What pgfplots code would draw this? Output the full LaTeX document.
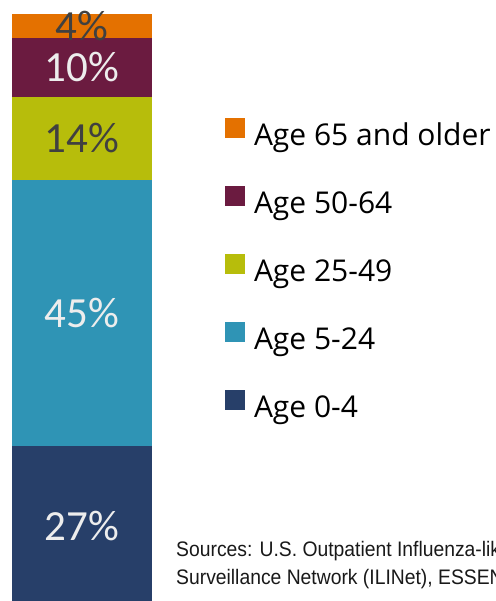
\documentclass[border=0pt]{standalone}
\usepackage{pgfplots}
\pgfplotsset{compat=1.18}
\usepackage{fontspec}
\setmainfont{Carlito}
\newfontfamily\legfont{Open Sans}
\newfontfamily\srcfont[FakeStretch=0.92]{Liberation Sans}
\definecolor{cOld}{HTML}{E47100}
\definecolor{cFifty}{HTML}{6B1B40}
\definecolor{cTwentyfive}{HTML}{B7BD0B}
\definecolor{cFive}{HTML}{2F94B5}
\definecolor{cZero}{HTML}{273F69}
\definecolor{lblDark}{HTML}{404040}
\definecolor{lblLight}{HTML}{EDEDED}
\begin{document}
\begin{tikzpicture}
\useasboundingbox (0,0) rectangle (496bp,601bp);
\begin{axis}[
  at={(0bp,-5bp)}, anchor=south west,
  scale only axis, width=496bp, height=592bp,
  xmin=0, xmax=496, ymin=0, ymax=100,
  hide axis,
  ybar stacked, bar width=140bp,
  reverse legend,
  legend style={draw=none, fill=none, at={(axis cs:225,82.4)}, anchor=north west,
    inner sep=0pt, outer sep=0pt, row sep=34bp, font=\legfont\fontsize{30bp}{34bp}\selectfont,
    nodes={inner sep=0pt, outer sep=0pt, text height=21bp, text depth=7bp}},
  legend cell align=left,
]
\addplot[fill=cZero, draw=none, nodes near coords={27\%},
  every node near coord/.style={anchor=center, text=lblLight, font=\fontsize{43bp}{50bp}\selectfont},
  legend image code/.code={\fill[cZero] (0bp,0bp) rectangle (20bp,20bp); \path (29bp,0bp);}]
  coordinates {(82,27)};
\addplot[fill=cFive, draw=none, nodes near coords={45\%},
  every node near coord/.style={anchor=center, text=lblLight, font=\fontsize{43bp}{50bp}\selectfont},
  legend image code/.code={\fill[cFive] (0bp,0bp) rectangle (20bp,20bp); \path (29bp,0bp);}]
  coordinates {(82,45)};
\addplot[fill=cTwentyfive, draw=none, nodes near coords={14\%},
  every node near coord/.style={anchor=center, text=lblDark, font=\fontsize{43bp}{50bp}\selectfont},
  legend image code/.code={\fill[cTwentyfive] (0bp,0bp) rectangle (20bp,20bp); \path (29bp,0bp);}]
  coordinates {(82,14)};
\addplot[fill=cFifty, draw=none, nodes near coords={10\%},
  every node near coord/.style={anchor=center, text=lblLight, font=\fontsize{43bp}{50bp}\selectfont},
  legend image code/.code={\fill[cFifty] (0bp,0bp) rectangle (20bp,20bp); \path (29bp,0bp);}]
  coordinates {(82,10)};
\addplot[fill=cOld, draw=none, nodes near coords={4\%},
  every node near coord/.style={anchor=center, text=lblDark, font=\fontsize{43bp}{50bp}\selectfont},
  legend image code/.code={\fill[cOld] (0bp,0bp) rectangle (20bp,20bp); \path (29bp,0bp);}]
  coordinates {(82,4)};
\legend{Age 0-4, Age 5-24, Age 25-49, Age 50-64, Age 65 and older}
\end{axis}
\node[anchor=base west, inner sep=0pt, text=black!90, font=\srcfont\fontsize{21bp}{24bp}\selectfont] at (176bp,44bp) {Sources: U.S. Outpatient Influenza-like Illness};
\node[anchor=base west, inner sep=0pt, text=black!90, font=\srcfont\fontsize{21bp}{24bp}\selectfont] at (176bp,17bp) {Surveillance Network (ILINet), ESSENCE};
\end{tikzpicture}
\end{document}
